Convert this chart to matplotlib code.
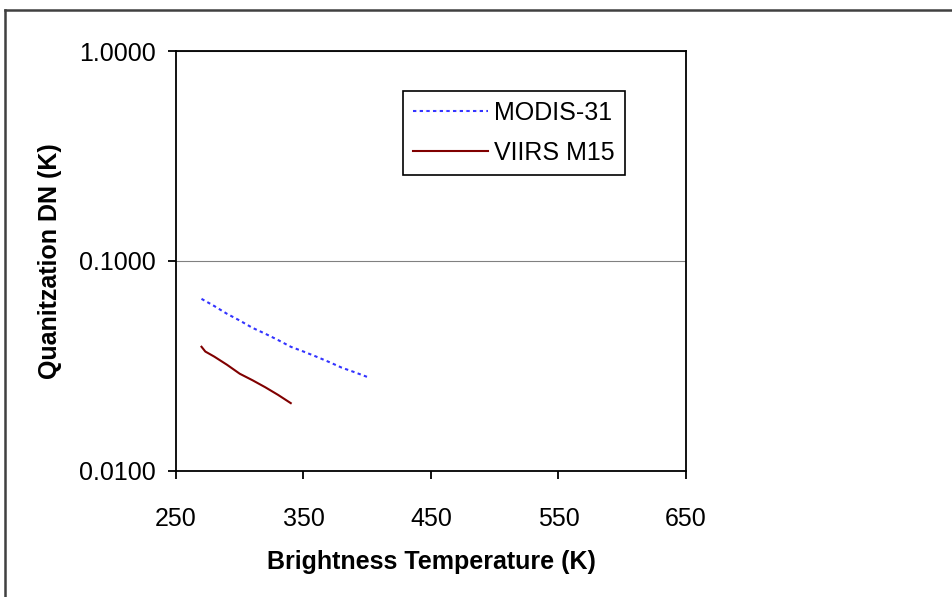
import matplotlib
matplotlib.use("Agg")
import matplotlib.pyplot as plt
from matplotlib.lines import Line2D
from matplotlib.ticker import FixedLocator, FuncFormatter, NullLocator

plt.rcParams['font.family'] = ['Liberation Sans', 'DejaVu Sans']

# Data
modis_x = [270, 280, 290, 300, 310, 320, 330, 340, 350, 360, 370, 380, 390, 400]
modis_y = [0.066, 0.061, 0.056, 0.052, 0.048, 0.045, 0.042, 0.039, 0.037, 0.035,
           0.033, 0.031, 0.0295, 0.028]
viirs_x = [270, 273, 280, 290, 300, 310, 320, 330, 340]
viirs_y = [0.039, 0.037, 0.035, 0.032, 0.029, 0.027, 0.025, 0.023, 0.021]

x_ticks = [250, 350, 450, 550, 650]
y_ticks = [0.01, 0.1, 1.0]
series_labels = ["MODIS-31", "VIIRS M15"]
x_label = "Brightness Temperature (K)"
y_label = "Quanitzation DN (K)"

W, H = 953, 597
fig = plt.figure(figsize=(W / 100, H / 100), dpi=100)
ax = fig.add_axes([176 / W, 1 - 470.7 / H, (686 - 176) / W, (470.7 - 51.3) / H])

ax.set_yscale('log')
ax.set_xlim(250, 650)
ax.set_ylim(0.01, 1.0)

ax.plot(modis_x, modis_y, color='#3333ff', lw=1.5, linestyle=(0, (1.6, 1.6)),
        label=series_labels[0])
ax.plot(viirs_x, viirs_y, color='#800000', lw=1.5, linestyle='-',
        label=series_labels[1])

ax.xaxis.set_major_locator(FixedLocator(x_ticks))
ax.yaxis.set_major_locator(FixedLocator(y_ticks))
ax.yaxis.set_minor_locator(NullLocator())
ax.xaxis.set_minor_locator(NullLocator())
ax.yaxis.set_major_formatter(FuncFormatter(lambda v, p: f"{v:.4f}"))
ax.xaxis.set_major_formatter(FuncFormatter(lambda v, p: f"{v:.0f}"))

ax.grid(True, axis='y', which='major', color='#808080', lw=0.8)
ax.set_axisbelow(True)

for s in ax.spines.values():
    s.set_color('black')
    s.set_linewidth(1.3)

ax.tick_params(axis='both', direction='out', length=5.8, width=1.3,
               labelsize=18, color='black')
ax.tick_params(axis='y', pad=9)
ax.tick_params(axis='x', pad=20)

ax.set_xlabel(x_label, fontsize=18, fontweight='bold', labelpad=14)
ax.set_ylabel(y_label, fontsize=18, fontweight='bold', labelpad=12)

leg = ax.legend(loc='upper left', bbox_to_anchor=(403 / W, 1 - 91 / H),
                bbox_transform=fig.transFigure, borderaxespad=0,
                fontsize=18, frameon=True, fancybox=False, shadow=False,
                handlelength=3.0, handletextpad=0.25, borderpad=0.4,
                labelspacing=0.62)
leg.get_frame().set_edgecolor('black')
leg.get_frame().set_linewidth(1.2)
leg.get_frame().set_alpha(1.0)

# outer chart border (only top and left visible)
bx, by = 5 / W, 1 - 10 / H
fig.add_artist(Line2D([bx, 1.0], [by, by], transform=fig.transFigure,
                      color='#404040', lw=1.8))
fig.add_artist(Line2D([bx, bx], [0.0, by], transform=fig.transFigure,
                      color='#404040', lw=1.8))

fig.savefig('out.png', dpi=100)
